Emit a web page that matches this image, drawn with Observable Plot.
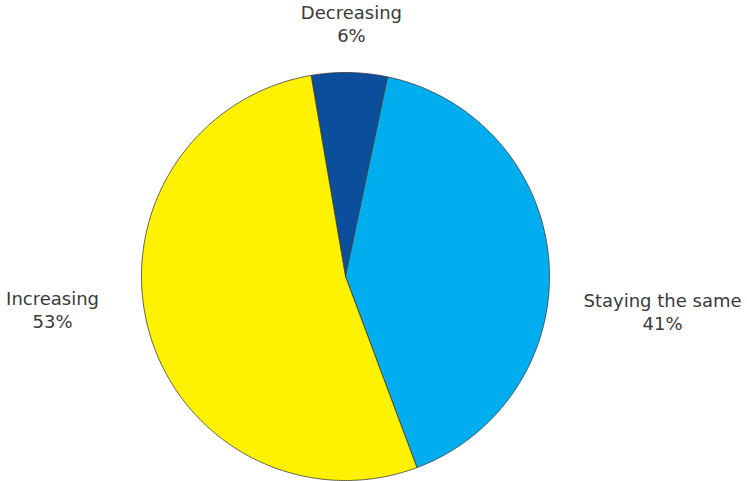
<!DOCTYPE html>
<html>
<head>
<meta charset="utf-8">
<script src="https://cdn.jsdelivr.net/npm/d3@7"></script>
<script src="https://cdn.jsdelivr.net/npm/@observablehq/plot@0.6"></script>
<style>
  body { margin: 0; background: #fff; }
</style>
</head>
<body>
<div id="chart"></div>
<script>
// Share of respondents by expected trend
const categories = ["Decreasing", "Staying the same", "Increasing"];
const shares = [6, 41, 53];
const colors = ["#0b4f9c", "#00aeef", "#fff200"];

// Slices run clockwise, the first one starting just left of 12 o'clock
const startDeg = -9.7;
const rad = Math.PI / 180;
const rows = categories.map((name, i) => ({name, share: shares[i]}));
const arcs = d3.pie()
  .sort(null)
  .value(d => d.share)
  .startAngle(startDeg * rad)
  .endAngle((startDeg + 360) * rad)(rows);

// Each slice as a closed polygon in unit-circle coordinates (y up)
const outline = arcs.flatMap(a => {
  const n = Math.max(2, Math.ceil((a.endAngle - a.startAngle) / (0.5 * rad)));
  const pts = [{name: a.data.name, x: 0, y: 0}];
  for (let k = 0; k <= n; k++) {
    const t = a.startAngle + (a.endAngle - a.startAngle) * k / n;
    pts.push({name: a.data.name, x: Math.sin(t), y: Math.cos(t)});
  }
  pts.push({name: a.data.name, x: 0, y: 0});
  return pts;
});

// Where each label block sits, in the same unit coordinates
const labelAt = {
  "Decreasing": [0.029, 1.242],
  "Staying the same": [1.554, -0.170],
  "Increasing": [-1.436, -0.160]
};
const labels = arcs.map(a => ({
  x: labelAt[a.data.name][0],
  y: labelAt[a.data.name][1],
  text: `${a.data.name}\n${a.data.share}%`
}));

const chart = Plot.plot({
  width: 747,
  height: 481,
  marginLeft: 141,
  marginRight: 198,
  marginTop: 72,
  marginBottom: 1,
  x: {domain: [-1, 1], axis: null},
  y: {domain: [-1, 1], axis: null},
  color: {domain: categories, range: colors},
  style: {fontFamily: "'DejaVu Sans', Verdana, sans-serif", fontSize: "18px", background: "#fff"},
  marks: [
    Plot.line(outline, {
      x: "x", y: "y", z: "name", fill: "name",
      stroke: "#3a3a3a", strokeWidth: 0.8, strokeLinejoin: "round"
    }),
    Plot.text(labels, {
      x: "x", y: "y", text: "text",
      fontSize: 18, lineHeight: 1.28, fill: "#3a3a3a"
    })
  ]
});
document.getElementById("chart").append(chart);
</script>
</body>
</html>
